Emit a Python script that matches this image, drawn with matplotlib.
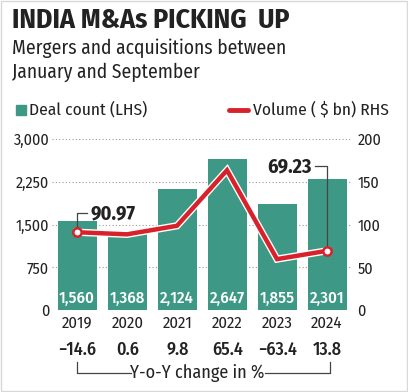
import matplotlib.pyplot as plt
import matplotlib.patheffects as pe
from matplotlib.patches import Rectangle
from matplotlib.lines import Line2D

years = ["2019", "2020", "2021", "2022", "2023", "2024"]
deal_count = [1560, 1368, 2124, 2647, 1855, 2301]
volume = [90.97, 88.5, 98.5, 163.5, 59.5, 69.23]
yoy_change = ["\u221214.6", "0.6", "9.8", "65.4", "\u221263.4", "13.8"]
left_ticks = [0, 750, 1500, 2250, 3000]
right_ticks = [0, 50, 100, 150, 200]

TEAL = "#3d9985"
RED = "#d7212b"
INK = "#222222"
plt.rcParams['font.family'] = ["Fira Sans Condensed", "DejaVu Sans"]

fig = plt.figure(figsize=(4.08, 3.92), dpi=100)
W, H = 408, 392

def fx(px):
    return px / W

def fy(py):
    return 1 - py / H

ax = fig.add_axes([fx(52), fy(310), fx(352) - fx(52), fy(139) - fy(310)])
x = list(range(len(years)))
ax.bar(x, deal_count, width=0.78, color=TEAL, zorder=2)
ax.set_xlim(-0.5, 5.5)
ax.set_ylim(0, 3000)
ax.set_yticks(left_ticks)
ax.set_yticklabels([f"{v:,}" for v in left_ticks])
ax.set_xticks([])
for v in left_ticks:
    ax.axhline(v, color="#9a9a9a", lw=0.8, ls=(0, (1, 2)), zorder=1)
for s in ax.spines.values():
    s.set_visible(False)
ax.tick_params(axis="y", length=0, pad=2, labelsize=11.5, colors=INK)

for i, v in enumerate(deal_count):
    ax.text(i, 60, f"{v:,}", ha="center", va="bottom", color="white",
            fontsize=12, fontweight="medium", zorder=3)

ax2 = ax.twinx()
ax2.set_ylim(0, 200)
ax2.set_yticks(right_ticks)
ax2.set_yticklabels([str(v) for v in right_ticks])
for s in ax2.spines.values():
    s.set_visible(False)
ax2.tick_params(axis="y", length=0, pad=4, labelsize=11.5, colors=INK)
ax2.plot(x, volume, color=RED, lw=3.2, solid_joinstyle="miter", zorder=4,
         path_effects=[pe.Stroke(linewidth=5.2, foreground="white"), pe.Normal()])
ax2.plot([x[0], x[-1]], [volume[0], volume[-1]], ls="none", marker="o",
         ms=6, mfc="white", mec=RED, mew=1.8, zorder=5)

# leader lines and value labels
ax2.plot([0, 0, 0.2], [volume[0], 113, 113], color="#444444", lw=0.9, zorder=3)
ax2.text(0.27, 113, f"{volume[0]:.2f}", ha="left", va="center",
         fontsize=14.5, fontweight="bold", color=INK)
ax2.plot([5, 5, 4.75], [volume[-1], 168, 168], color="#444444", lw=0.9, zorder=3)
ax2.text(4.7, 168, f"{volume[-1]:.2f}", ha="right", va="center",
         fontsize=14.5, fontweight="bold", color=INK)

# year and change labels
for i in x:
    px = 77.5 + 49.9 * i
    fig.text(fx(px), fy(323), years[i], ha="center", va="center",
             fontsize=12, color=INK)
    fig.text(fx(px), fy(350), yoy_change[i], ha="center", va="center",
             fontsize=13, fontweight="medium", color=INK)

# bracket under change values
fig.add_artist(Line2D([fx(77), fx(77), fx(131)], [fy(362), fy(373), fy(373)],
                      color="#444444", lw=0.9))
fig.add_artist(Line2D([fx(265), fx(330), fx(330)], [fy(373), fy(373), fy(362)],
                      color="#444444", lw=0.9))
fig.text(fx(197), fy(373), "Y-o-Y change in %", ha="center", va="center",
         fontsize=13, color=INK)

# titles
fig.text(fx(12), fy(20), "INDIA M&As PICKING  UP", ha="left", va="center",
         fontsize=20, fontweight="bold", color=INK)
fig.text(fx(12), fy(48), "Mergers and acquisitions between", ha="left",
         va="center", fontsize=14, color=INK)
fig.text(fx(12), fy(72), "January and September", ha="left",
         va="center", fontsize=14, color=INK)

# legend
fig.add_artist(Rectangle((fx(16), fy(115)), fx(10), fy(105) - fy(115),
                         color=TEAL, transform=fig.transFigure))
fig.text(fx(29), fy(110), "Deal count (LHS)", ha="left", va="center",
         fontsize=12.5, color=INK)
fig.add_artist(Line2D([fx(229), fx(248)], [fy(110), fy(110)], color=RED, lw=3.5,
                      solid_capstyle="round"))
fig.text(fx(253), fy(110), "Volume ( $ bn) RHS", ha="left", va="center",
         fontsize=12.5, color=INK)

# light frame
fig.add_artist(Rectangle((0.002, 0.002), 0.996, 0.996, fill=False,
                         ec="#d8d8d8", lw=1, transform=fig.transFigure))

fig.savefig("out.png", dpi=100)
